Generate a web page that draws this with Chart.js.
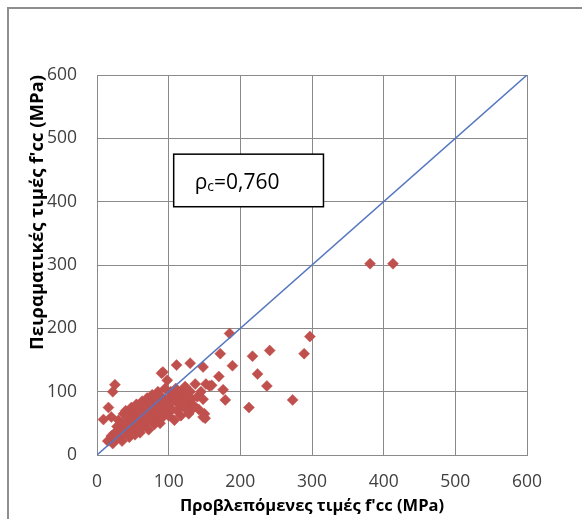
<!DOCTYPE html>
<html>
<head>
<meta charset="utf-8">
<script src="https://cdn.jsdelivr.net/npm/chart.js@4.4.1/dist/chart.umd.min.js"></script>
<style>
  body { margin: 0; background: #fff; overflow: hidden; }
  #wrap { position: relative; width: 582px; height: 519px; }
  #frame { position: absolute; left: 7px; top: 7px; width: 640px; height: 600px;
           border-left: 2px solid #8e8e8e; border-top: 2px solid #8e8e8e; }
  canvas { position: absolute; left: 0; top: 0; }
</style>
</head>
<body>
<div id="wrap">
  <div id="frame"></div>
  <canvas id="graphCanvas" width="582" height="519"></canvas>
</div>
<script>
// Predicted f'cc (x) against experimental f'cc (y), MPa
const predicted = [
  15, 20, 22, 25, 27, 28, 30, 30, 32, 35, 35, 37, 38, 40, 40, 42, 43, 45, 45, 47,
  48, 50, 50, 52, 53, 55, 55, 57, 58, 60, 60, 62, 63, 65, 65, 67, 68, 70, 70, 72,
  73, 75, 75, 77, 78, 80, 80, 82, 83, 85, 85, 87, 88, 90, 90, 92, 93, 95, 95, 97,
  98, 100, 100, 102, 103, 105, 107, 108, 110, 110, 112, 113, 115, 117, 118, 120, 122, 123, 125, 127,
  128, 130, 132, 135, 137, 140, 142, 145, 148, 150, 152,
  9, 16, 22, 25, 20, 90, 92, 111, 130, 148, 134, 148, 151, 157, 160, 170, 172, 176, 179, 185,
  189, 212, 217, 224, 237, 241, 273, 289, 297, 381, 413
];
const experimental = [
  22, 30, 18, 35, 25, 45, 30, 55, 40, 22, 50, 65, 33, 45, 70, 38, 55, 28, 62, 48,
  75, 40, 58, 68, 32, 50, 80, 42, 62, 72, 35, 55, 85, 45, 65, 78, 52, 60, 90, 40,
  70, 55, 82, 95, 62, 48, 75, 88, 58, 68, 100, 80, 50, 72, 92, 60, 85, 105, 68, 78,
  118, 90, 62, 82, 100, 72, 92, 55, 85, 105, 70, 95, 80, 62, 100, 88, 75, 108, 95, 82,
  65, 100, 88, 78, 112, 92, 72, 100, 88, 65, 112,
  56, 75, 100, 111, 60, 129, 131, 142, 145, 139, 74, 60, 58, 109, 110, 124, 160, 103, 87, 192,
  141, 75, 156, 128, 109, 165, 87, 160, 187, 302, 302
];
const lineX = [0, 600];
const lineY = [0, 600];
const axisTicks = [0, 100, 200, 300, 400, 500, 600];
const xTitle = "Προβλεπόμενες τιμές f'cc (MPa)";
const yTitle = "Πειραματικές τιμές f'cc (MPa)";
const boxLabel = ["ρ", "c", "=0,760"];

const points = predicted.map((v, i) => ({ x: v, y: experimental[i] }));
const diagonal = lineX.map((v, i) => ({ x: v, y: lineY[i] }));

// Draw the text box with the correlation value
const boxPlugin = {
  id: "corrBox",
  afterDraw(chart) {
    const ctx = chart.ctx;
    const xs = chart.scales.x, ys = chart.scales.y;
    const left = xs.getPixelForValue(107), right = xs.getPixelForValue(316);
    const top = ys.getPixelForValue(475), bottom = ys.getPixelForValue(392);
    ctx.save();
    ctx.fillStyle = "#fff";
    ctx.fillRect(left, top, right - left, bottom - top);
    ctx.strokeStyle = "#000";
    ctx.lineWidth = 1.5;
    ctx.strokeRect(left, top, right - left, bottom - top);
    ctx.fillStyle = "#000";
    ctx.textBaseline = "alphabetic";
    let tx = left + 21;
    const base = top + 35;
    ctx.font = "21px 'Open Sans'";
    ctx.fillText(boxLabel[0], tx, base);
    tx += ctx.measureText(boxLabel[0]).width;
    ctx.font = "14px 'Open Sans'";
    ctx.fillText(boxLabel[1], tx, base + 2);
    tx += ctx.measureText(boxLabel[1]).width;
    ctx.font = "21px 'Open Sans'";
    ctx.fillText(boxLabel[2], tx, base);
    ctx.restore();
  }
};

const tickFont = { family: "'Open Sans'", size: 17.5 };

const ctx = document.getElementById("graphCanvas").getContext("2d");
new Chart(ctx, {
  type: "scatter",
  data: {
    datasets: [
      {
        data: diagonal,
        type: "line",
        borderColor: "#5577c0",
        borderWidth: 1.5,
        pointRadius: 0,
        fill: false
      },
      {
        data: points,
        pointStyle: "rectRot",
        pointRadius: 5.5,
        backgroundColor: "#c0504d",
        borderColor: "#c0504d",
        borderWidth: 0.5
      }
    ]
  },
  options: {
    responsive: false,
    animation: false,
    devicePixelRatio: 1,
    layout: { padding: { left: 0, top: 75, right: 55, bottom: 0 } },
    plugins: { legend: { display: false }, tooltip: { enabled: false } },
    scales: {
      x: {
        type: "linear",
        min: 0, max: 600,
        afterBuildTicks: (s) => { s.ticks = axisTicks.map(v => ({ value: v })); },
        afterFit: (s) => { s.height = 64; },
        grid: { color: "#8a8a8a", drawTicks: false },
        border: { color: "#8a8a8a" },
        ticks: { color: "#404040", font: tickFont, padding: 17, maxRotation: 0 },
        title: { display: true, text: xTitle, color: "#000",
                 font: { family: "'Open Sans'", size: 16.5, weight: "bold" }, padding: { top: 0, bottom: 3 } }
      },
      y: {
        type: "linear",
        min: 0, max: 600,
        afterBuildTicks: (s) => { s.ticks = axisTicks.map(v => ({ value: v })); },
        afterFit: (s) => { s.width = 97; },
        grid: { color: "#8a8a8a", drawTicks: false },
        border: { color: "#8a8a8a" },
        ticks: { color: "#404040", font: tickFont, padding: 20 },
        title: { display: true, text: yTitle, color: "#000",
                 font: { family: "'Open Sans'", size: 18.5, weight: "bold" }, align: "end", padding: { top: 27, bottom: 0 } }
      }
    }
  },
  plugins: [boxPlugin]
});
</script>
</body>
</html>
